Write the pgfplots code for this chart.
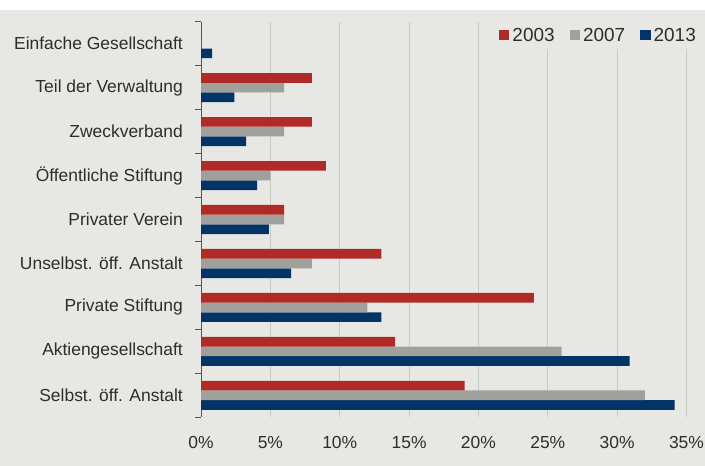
\documentclass[border=0pt]{standalone}
\usepackage{fontspec}
\setmainfont{Liberation Sans}
\usepackage{pgfplots}
\pgfplotsset{compat=1.18}
\definecolor{bg}{RGB}{231,232,228}
\definecolor{gridc}{RGB}{201,202,198}
\definecolor{axisc}{RGB}{85,85,85}
\definecolor{txt}{RGB}{45,45,45}
\definecolor{cred}{RGB}{176,42,39}
\definecolor{cgray}{RGB}{160,161,156}
\definecolor{cblue}{RGB}{3,52,102}
\begin{document}
\begin{tikzpicture}
\fill[white] (0bp,0bp) rectangle (705bp,466bp);
\fill[bg] (0bp,0bp) rectangle (705bp,456bp);
\begin{axis}[
  at={(201bp,48.7bp)}, anchor=south west,
  scale only axis, width=485.5bp, height=395.6bp,
  xbar=0pt, bar width=9.7bp,
  xmin=0, xmax=35,
  ymin=-0.5, ymax=8.5, y dir=reverse,
  axis y line*=left, axis x line*=bottom,
  x axis line style={draw=none},
  y axis line style={draw=axisc, line width=0.9bp},
  xtick={0,5,10,15,20,25,30,35},
  xticklabels={0\%,5\%,10\%,15\%,20\%,25\%,30\%,35\%},
  xtick style={draw=none},
  xmajorgrids, grid style={draw=gridc, line width=0.9bp},
  ytick={0,1,2,3,4,5,6,7,8},
  yticklabels={Einfache Gesellschaft,Teil der Verwaltung,Zweckverband,Öffentliche Stiftung,Privater Verein,Unselbst. öff. Anstalt,Private Stiftung,Aktiengesellschaft,Selbst. öff. Anstalt},
  minor ytick={-0.5,0.5,...,8.5},
  tick align=outside,
  major tick length=0bp, minor tick length=6bp,
  minor y tick style={draw=axisc, line width=0.9bp},
  tick label style={font=\fontsize{17.5}{20}\selectfont, text=txt},
  yticklabel style={inner sep=0pt, anchor=east, xshift=-18bp},
  xticklabel style={inner sep=0pt, anchor=north, yshift=-19bp},
  legend style={at={(1.034,1)}, anchor=north east, fill=bg, draw=none,
    font=\fontsize{19}{22}\selectfont, text=txt,
    inner xsep=4bp, inner ysep=4bp,
    nodes={inner xsep=3bp, inner ysep=2bp},
    /tikz/every even column/.append style={column sep=12bp}},
  legend columns=3, reverse legend,
  legend image code/.code={\path[#1, draw=none] (0bp,-5bp) rectangle (10.5bp,5.5bp);},
]
\addplot[fill=cblue, draw=none] coordinates {(0.8,0) (2.4,1) (3.25,2) (4.05,3) (4.9,4) (6.5,5) (13,6) (30.9,7) (34.15,8)};
\addplot[fill=cgray, draw=none] coordinates {(0,0) (6,1) (6,2) (5,3) (6,4) (8,5) (12,6) (26,7) (32,8)};
\addplot[fill=cred, draw=none] coordinates {(0,0) (8,1) (8,2) (9,3) (6,4) (13,5) (24,6) (14,7) (19,8)};
\legend{2013,2007,2003}
\end{axis}
\pgfresetboundingbox
\path[use as bounding box] (0bp,0bp) rectangle (705bp,466bp);
\end{tikzpicture}
\end{document}
